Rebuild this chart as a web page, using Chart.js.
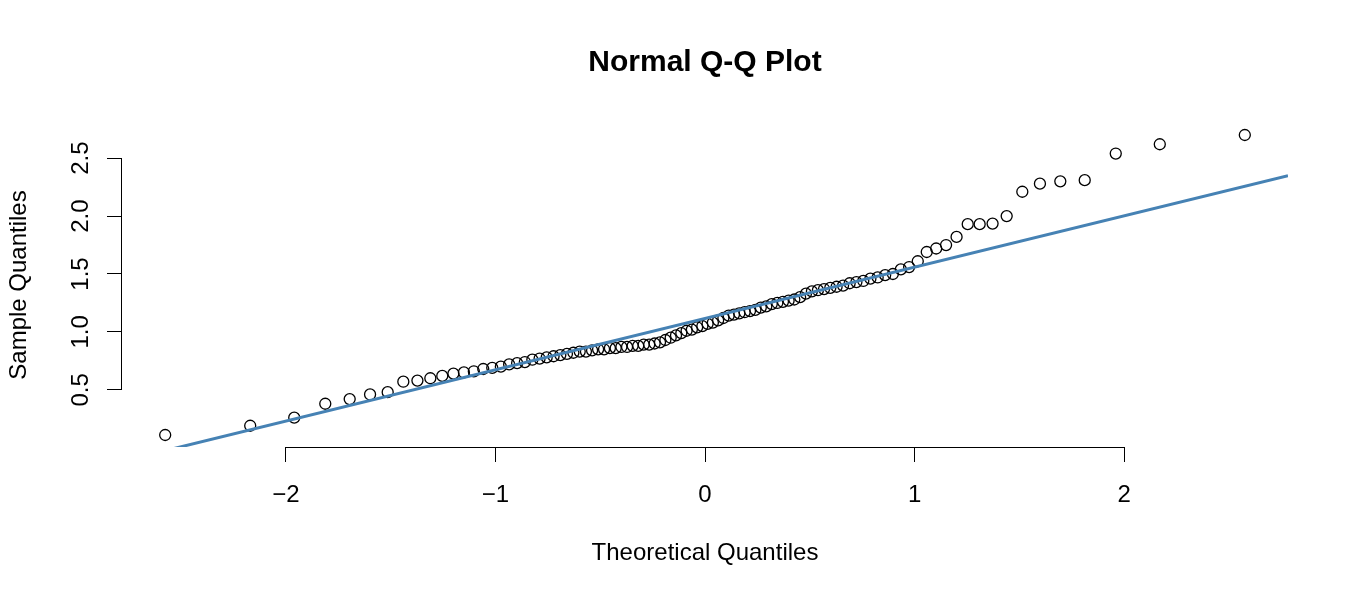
<!DOCTYPE html>
<html>
<head>
<meta charset="utf-8">
<title>Normal Q-Q Plot</title>
<script src="https://cdn.jsdelivr.net/npm/chart.js@4"></script>
<style>
  html, body { margin: 0; padding: 0; background: #fff; }
  #wrap { width: 1350px; height: 600px; }
</style>
</head>
<body>
<div id="wrap"><canvas id="qqChart" width="1350" height="600"></canvas></div>
<script>
// theoretical quantiles (n = 100)
const theoretical = [
  -2.5758, -2.1701, -1.9600, -1.8119, -1.6954, -1.5982, -1.5141, -1.4395, -1.3722, -1.3106,
  -1.2536, -1.2004, -1.1503, -1.1031, -1.0581, -1.0152, -0.9741, -0.9346, -0.8965, -0.8596,
  -0.8239, -0.7892, -0.7554, -0.7225, -0.6903, -0.6588, -0.6280, -0.5978, -0.5681, -0.5388,
  -0.5101, -0.4817, -0.4538, -0.4261, -0.3989, -0.3719, -0.3451, -0.3186, -0.2924, -0.2663,
  -0.2404, -0.2147, -0.1891, -0.1637, -0.1383, -0.1130, -0.0878, -0.0627, -0.0376, -0.0125,
  0.0125, 0.0376, 0.0627, 0.0878, 0.1130, 0.1383, 0.1637, 0.1891, 0.2147, 0.2404,
  0.2663, 0.2924, 0.3186, 0.3451, 0.3719, 0.3989, 0.4261, 0.4538, 0.4817, 0.5101,
  0.5388, 0.5681, 0.5978, 0.6280, 0.6588, 0.6903, 0.7225, 0.7554, 0.7892, 0.8239,
  0.8596, 0.8965, 0.9346, 0.9741, 1.0152, 1.0581, 1.1031, 1.1503, 1.2004, 1.2536,
  1.3106, 1.3722, 1.4395, 1.5141, 1.5982, 1.6954, 1.8119, 1.9600, 2.1701, 2.5758
];

// sample quantiles (sorted)
const sample = [
  0.11, 0.19, 0.26, 0.38, 0.42, 0.46, 0.48, 0.57, 0.58, 0.60,
  0.62, 0.64, 0.65, 0.66, 0.68, 0.69, 0.70, 0.72, 0.73, 0.74,
  0.76, 0.77, 0.78, 0.79, 0.80, 0.81, 0.82, 0.83, 0.83, 0.84,
  0.85, 0.85, 0.86, 0.86, 0.87, 0.87, 0.88, 0.88, 0.89, 0.89,
  0.90, 0.91, 0.93, 0.95, 0.97, 0.99, 1.01, 1.02, 1.04, 1.05,
  1.07, 1.08, 1.10, 1.12, 1.14, 1.15, 1.16, 1.17, 1.18, 1.19,
  1.21, 1.22, 1.24, 1.25, 1.26, 1.27, 1.28, 1.30, 1.33, 1.35,
  1.36, 1.37, 1.38, 1.39, 1.40, 1.42, 1.43, 1.44, 1.46, 1.47,
  1.49, 1.50, 1.54, 1.56, 1.61, 1.69, 1.72, 1.75, 1.82, 1.93,
  1.93, 1.935, 2.00, 2.21, 2.28, 2.30, 2.31, 2.54, 2.62, 2.70
];

// reference line (qqline)
const lineIntercept = 1.116;
const lineSlope = 0.443;

const xTickStep = 1;
const yTickStep = 0.5;

// R style 4% axis extension
function extRange(arr) {
    const lo = Math.min(...arr), hi = Math.max(...arr);
    const pad = (hi - lo) * 0.04;
    return [lo - pad, hi + pad];
}
const [xMin, xMax] = extRange(theoretical);
const [yMin, yMax] = extRange(sample);

const points = theoretical.map((t, i) => ({ x: t, y: sample[i] }));
const linePts = [xMin, xMax].map(t => ({ x: t, y: lineIntercept + lineSlope * t }));

Chart.defaults.font.family = '"Liberation Sans", Arial, Helvetica, sans-serif';
Chart.defaults.color = '#000';

// axis line only between first and last tick, like base R
const rAxisLines = {
    id: 'rAxisLines',
    afterDraw(chart) {
        const ctx = chart.ctx;
        ctx.save();
        ctx.strokeStyle = '#000';
        ctx.lineWidth = 1;
        const xs = chart.scales.x, ys = chart.scales.y;
        const area = chart.chartArea;
        ctx.beginPath();
        ctx.moveTo(xs.getPixelForValue(xs.ticks[0].value), area.bottom + 0.5);
        ctx.lineTo(xs.getPixelForValue(xs.ticks[xs.ticks.length - 1].value), area.bottom + 0.5);
        ctx.moveTo(area.left - 0.5, ys.getPixelForValue(ys.ticks[0].value));
        ctx.lineTo(area.left - 0.5, ys.getPixelForValue(ys.ticks[ys.ticks.length - 1].value));
        ctx.stroke();
        ctx.restore();
    }
};

const qqCtx = document.getElementById('qqChart').getContext('2d');
const qqChart = new Chart(qqCtx, {
    type: 'scatter',
    data: {
        datasets: [
            {
                label: 'qqline',
                data: linePts,
                showLine: true,
                borderColor: '#4682B4',
                borderWidth: 3,
                pointRadius: 0,
                fill: false
            },
            {
                label: 'Sample',
                data: points,
                pointStyle: 'circle',
                pointRadius: 5.5,
                pointBorderWidth: 1.3,
                pointBorderColor: '#000',
                pointBackgroundColor: 'rgba(0,0,0,0)'
            }
        ]
    },
    options: {
        responsive: false,
        animation: false,
        layout: { padding: { left: 0, right: 62, top: 0, bottom: 0 } },
        plugins: {
            legend: { display: false },
            tooltip: { enabled: false },
            title: {
                display: true,
                text: 'Normal Q-Q Plot',
                fullSize: false,
                font: { size: 30, weight: 'bold' },
                color: '#000',
                padding: { top: 45, bottom: 42 }
            }
        },
        scales: {
            x: {
                type: 'linear',
                min: xMin,
                max: xMax,
                afterFit(scale) { scale.height = 153; },
                border: { display: false },
                grid: { drawOnChartArea: false, drawTicks: true, tickLength: 15, color: '#000' },
                ticks: {
                    stepSize: xTickStep,
                    includeBounds: false,
                    padding: 19,
                    font: { size: 24 },
                    maxRotation: 0,
                    callback: v => String(v).replace('-', '\u2212')
                },
                title: {
                    display: true,
                    text: 'Theoretical Quantiles',
                    font: { size: 24 },
                    padding: { top: 0, bottom: 32 }
                }
            },
            y: {
                type: 'linear',
                min: yMin,
                max: yMax,
                afterFit(scale) { scale.width = 122; },
                border: { display: false },
                grid: { drawOnChartArea: false, drawTicks: true, tickLength: 15, color: '#000' },
                ticks: {
                    stepSize: yTickStep,
                    includeBounds: false,
                    padding: 9,
                    minRotation: 90,
                    maxRotation: 90,
                    crossAlign: 'center',
                    font: { size: 24 },
                    callback: v => v.toFixed(1)
                },
                title: {
                    display: true,
                    text: 'Sample Quantiles',
                    font: { size: 24 },
                    padding: { top: 5, bottom: 0 }
                }
            }
        }
    },
    plugins: [rAxisLines]
});
</script>
</body>
</html>
